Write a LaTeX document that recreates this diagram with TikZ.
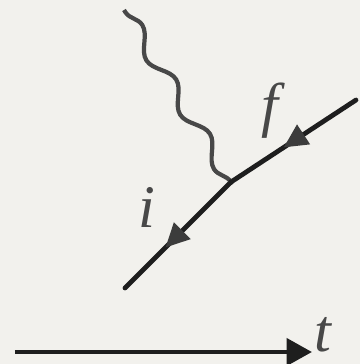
\documentclass[tikz,border=0pt]{standalone}
\usepackage{fontspec}
\setmainfont{Liberation Serif}
\usetikzlibrary{arrows.meta,decorations.pathmorphing,decorations.markings}
\definecolor{paper}{RGB}{242,241,237}
\definecolor{ink}{RGB}{30,30,30}
\definecolor{wavegrey}{RGB}{72,72,72}
\definecolor{tipgrey}{RGB}{60,60,60}
\tikzset{
  fermion/.style={ink,line width=3.4pt,line cap=round,postaction={decorate},
    decoration={markings,mark=at position #1 with
      {\arrow[tipgrey]{Triangle[length=17pt,width=16pt]}}}},
  photon/.style={wavegrey,line width=3pt,decorate,
    decoration={snake,segment length=1.6cm,amplitude=0.19cm}},
  lbl/.style={font=\fontsize{43}{50}\selectfont\itshape,text=wavegrey,inner sep=0pt}
}
\begin{document}
\begin{tikzpicture}[x=0.025cm,y=-0.025cm]
    \fill[paper] (0,0) rectangle (360,364);
    \useasboundingbox (0,0) rectangle (360,364);

    \coordinate (vtx) at (231,182);
    \coordinate (fin) at (356,100);
    \coordinate (ini) at (125,288);
    \coordinate (gam) at (124,10);
    \draw[fermion=.58] (fin) -- (vtx);
    \draw[fermion=.62] (vtx) -- (ini);
    \draw[photon] (vtx) -- (gam);
    \fill[ink] (vtx) circle (2pt);

    \node[lbl] (f) at (270,111) {f};
    \node[lbl] (i) at (147,207) {i};

    % time axis
    \coordinate (t0) at (15,352);
    \coordinate (t1) at (312,352);
    \draw[ink,line width=3.4pt,-{Triangle[length=18pt,width=19pt]}] (t0) -- (t1);
    \node[lbl] (t) at (323,335) {t};
\end{tikzpicture}
\end{document}
